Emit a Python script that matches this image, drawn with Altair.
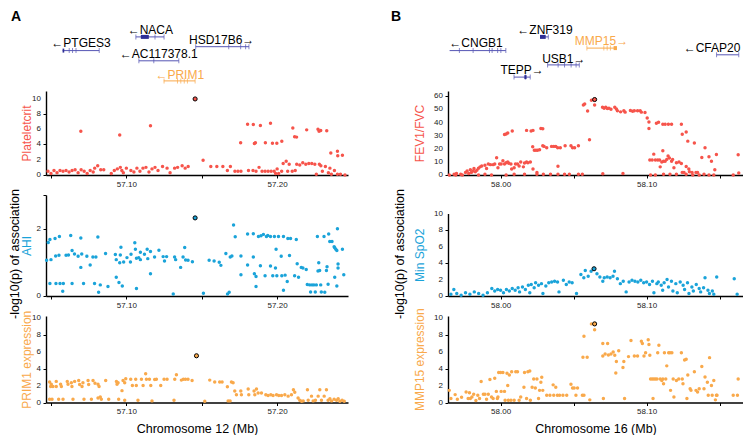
import altair as alt
import pandas as pd

FONT = "Liberation Sans"
RED = "#F6544B"
BLUE = "#1AA3D9"
ORANGE = "#F9A94B"
GENE = "#5656B4"
GENE_DARK = "#2E2E96"

# ---------------- Panel A data (chromosome 12, Mb) ----------------
a_plt = [
    (57.048, 0.5), (57.050, 0.2), (57.052, 0.6), (57.054, 0.3), (57.056, 0.6), (57.058, 0.5),
    (57.060, 0.6), (57.062, 0.4), (57.064, 0.6), (57.066, 0.7), (57.068, 0.3), (57.070, 0.7),
    (57.072, 0.5), (57.074, 0.2), (57.076, 0.6), (57.078, 0.4), (57.079, 0.9), (57.081, 1.2),
    (57.083, 0.7), (57.085, 0.7), (57.090, 0.2), (57.092, 0.6), (57.094, 0.8), (57.096, 1.0),
    (57.097, 0.6), (57.098, 0.3), (57.100, 0.9), (57.103, 0.6), (57.105, 0.4), (57.107, 0.9),
    (57.109, 0.5), (57.111, 0.9), (57.113, 1.0), (57.115, 0.4), (57.117, 0.8), (57.119, 1.0),
    (57.121, 0.6), (57.124, 1.1), (57.127, 0.9), (57.129, 0.3), (57.132, 0.9), (57.134, 1.0),
    (57.137, 1.2), (57.139, 0.9), (57.141, 1.1), (57.156, 1.1), (57.160, 1.1), (57.164, 1.1),
    (57.167, 0.6), (57.169, 1.1), (57.172, 0.5), (57.174, 0.5), (57.176, 0.5), (57.181, 0.6),
    (57.184, 0.6), (57.186, 0.5), (57.188, 1.0), (57.190, 0.5), (57.192, 0.5), (57.194, 0.5),
    (57.196, 0.5), (57.198, 0.5), (57.199, 0.2), (57.200, 0.8), (57.201, 0.2), (57.203, 0.5),
    (57.204, 1.5), (57.206, 1.8), (57.207, 0.5), (57.208, 1.4), (57.210, 0.5), (57.212, 0.6),
    (57.213, 1.4), (57.215, 1.3), (57.217, 1.6), (57.219, 1.4), (57.221, 1.5), (57.223, 1.5),
    (57.225, 1.4), (57.226, 0.1), (57.228, 1.4), (57.229, 1.2), (57.230, 0.5), (57.232, 1.1),
    (57.234, 0.3), (57.235, 0.9), (57.236, 0.1), (57.238, 0.6), (57.240, 0.1), (57.242, 0.1),
    (57.245, 0.0),
    (57.0698, 5.74), (57.0956, 5.25), (57.1160, 6.45), (57.1509, 1.94),
    (57.1758, 4.21), (57.1804, 6.65), (57.1842, 6.61), (57.1849, 4.13), (57.1856, 4.21),
    (57.1889, 6.49), (57.1922, 4.21), (57.1956, 6.78), (57.1969, 4.17), (57.1998, 4.17),
    (57.2031, 4.42), (57.2104, 6.16), (57.2116, 5.00), (57.2129, 4.96), (57.2196, 5.91),
    (57.2271, 5.99), (57.2278, 5.74), (57.2289, 5.83), (57.2329, 5.79), (57.2356, 2.89),
    (57.2400, 3.10), (57.2402, 2.52), (57.2433, 2.60),
]
a_plt_lead = (57.1456, 9.96)

a_ahi = [
    (57.0471, 1.06), (57.0482, 1.59), (57.0493, 1.68), (57.0500, 1.08), (57.0493, 0.37),
    (57.0527, 1.71), (57.0531, 1.19), (57.0533, 0.37), (57.0556, 1.77), (57.0553, 1.21),
    (57.0560, 0.37), (57.0578, 0.14), (57.0582, 0.37), (57.0600, 1.21), (57.0616, 1.22),
    (57.0631, 1.80), (57.0640, 1.35), (57.0640, 0.37), (57.0656, 1.25), (57.0680, 1.18),
    (57.0698, 1.72), (57.0698, 0.85), (57.0704, 1.25), (57.0716, 0.37), (57.0738, 1.18),
    (57.0760, 0.92), (57.0778, 1.16), (57.0789, 0.37), (57.0798, 1.16), (57.0811, 1.75),
    (57.0816, 0.11), (57.0827, 0.33), (57.0862, 1.26), (57.0878, 0.28), (57.0927, 1.23),
    (57.0933, 0.56), (57.0933, 1.08), (57.0951, 0.40), (57.0960, 1.22), (57.0964, 1.45),
    (57.0956, 0.99), (57.0973, 0.30), (57.0982, 1.01), (57.1004, 1.14), (57.1027, 1.01),
    (57.1031, 1.24), (57.1056, 1.58), (57.1060, 1.39), (57.1067, 0.22), (57.1067, 1.12),
    (57.1082, 1.14), (57.1093, 1.30), (57.1093, 1.08), (57.1120, 1.24), (57.1138, 1.39),
    (57.1142, 1.11), (57.1160, 1.32), (57.1160, 0.66), (57.1187, 1.16), (57.1216, 1.36),
    (57.1244, 1.17), (57.1253, 1.04), (57.1267, 1.17), (57.1311, 0.06), (57.1320, 1.16),
    (57.1327, 1.08), (57.1360, 0.85), (57.1376, 1.16), (57.1387, 1.44), (57.1393, 1.07),
    (57.1409, 1.06), (57.1438, 1.02), (57.1511, 0.08), (57.1549, 1.06), (57.1582, 1.04),
    (57.1616, 1.00), (57.1627, 0.91), (57.1660, 1.26), (57.1671, 0.06), (57.1682, 0.11),
    (57.1689, 1.16), (57.1700, 1.19), (57.1711, 2.11), (57.1722, 1.76), (57.1760, 1.19),
    (57.1760, 0.63), (57.1804, 1.84), (57.1804, 0.92), (57.1842, 1.85), (57.1842, 1.16),
    (57.1849, 0.66), (57.1860, 0.58), (57.1860, 0.28), (57.1876, 1.77), (57.1889, 0.90),
    (57.1893, 1.79), (57.1909, 1.83), (57.1920, 0.60), (57.1929, 1.77), (57.1938, 1.80),
    (57.1956, 1.77), (57.1956, 0.89), (57.1971, 0.60), (57.1982, 1.77), (57.1989, 0.83),
    (57.1993, 1.39), (57.1998, 0.60), (57.2009, 1.77), (57.2027, 1.18), (57.2031, 0.60),
    (57.2042, 0.17), (57.2042, 1.77), (57.2053, 0.62), (57.2067, 0.43), (57.2071, 1.71),
    (57.2082, 1.20), (57.2089, 1.71), (57.2116, 0.60), (57.2127, 1.68), (57.2133, 0.96),
    (57.2142, 0.56), (57.2160, 0.85), (57.2171, 0.83), (57.2193, 0.79), (57.2200, 0.34),
    (57.2216, 0.33), (57.2222, 0.12), (57.2231, 0.33), (57.2244, 0.33), (57.2253, 0.12),
    (57.2260, 0.33), (57.2267, 1.77), (57.2271, 0.74), (57.2276, 0.99), (57.2282, 0.76),
    (57.2289, 0.33), (57.2293, 0.12), (57.2311, 1.77), (57.2316, 0.11), (57.2327, 0.76),
    (57.2331, 0.87), (57.2338, 0.35), (57.2342, 1.84), (57.2349, 1.62), (57.2364, 1.62),
    (57.2378, 1.46), (57.2382, 1.43), (57.2389, 1.39), (57.2396, 1.35), (57.2400, 2.00),
    (57.2404, 0.95), (57.2404, 0.83), (57.2382, 0.56), (57.2396, 0.30), (57.2433, 1.39),
    (57.2442, 0.63),
]
a_ahi_lead = (57.1456, 2.32)

a_prim = [
    (57.0491, 2.42), (57.0498, 1.89), (57.0502, 2.15), (57.0513, 1.89), (57.0535, 2.49),
    (57.0535, 1.89), (57.0564, 2.15), (57.0569, 1.89), (57.0608, 2.49), (57.0613, 2.15),
    (57.0635, 2.34), (57.0639, 1.89), (57.0657, 2.49), (57.0684, 2.60), (57.0690, 2.11),
    (57.0706, 1.89), (57.0712, 2.34), (57.0746, 2.60), (57.0750, 2.11), (57.0779, 2.60),
    (57.0792, 2.26), (57.0812, 2.15), (57.0819, 1.89), (57.0863, 2.60), (57.0934, 2.49),
    (57.0938, 2.15), (57.0945, 2.34), (57.0971, 1.40), (57.0978, 2.60), (57.0989, 2.34),
    (57.0996, 2.79), (57.1029, 2.75), (57.1040, 2.00), (57.1062, 2.75), (57.1066, 2.00),
    (57.1100, 2.75), (57.1111, 2.00), (57.1128, 3.40), (57.1133, 2.75), (57.1153, 2.75),
    (57.1162, 2.00), (57.1188, 2.72), (57.1199, 2.75), (57.1228, 2.00), (57.1250, 2.75),
    (57.1270, 2.75), (57.1321, 2.75), (57.1332, 3.28), (57.1365, 2.64), (57.1378, 2.75),
    (57.1392, 2.75), (57.1409, 2.75), (57.1436, 2.60), (57.1553, 2.64), (57.1586, 2.42),
    (57.1619, 2.42), (57.1635, 2.42), (57.1670, 1.85), (57.1697, 2.42), (57.1708, 2.34),
    (57.1719, 1.36), (57.1730, 0.91), (57.1759, 1.36), (57.1763, 0.91), (57.1808, 1.58),
    (57.1812, 0.91), (57.1847, 1.36), (57.1852, 0.91), (57.1863, 1.58), (57.1874, 1.13),
    (57.1896, 1.13), (57.1925, 0.91), (57.1940, 0.83), (57.1958, 0.91), (57.1973, 0.83),
    (57.1996, 0.91), (57.2011, 0.83), (57.2029, 0.83), (57.2051, 0.91), (57.2073, 0.75),
    (57.2095, 0.91), (57.2108, 1.51), (57.2117, 1.21), (57.2139, 0.53), (57.2150, 0.26),
    (57.2162, 0.15), (57.2173, 0.19), (57.2201, 1.51), (57.2206, 0.26), (57.2228, 0.75),
    (57.2239, 0.19), (57.2254, 0.26), (57.2272, 0.75), (57.2283, 1.51), (57.2294, 0.26),
    (57.2312, 0.75), (57.2327, 1.51), (57.2338, 0.26), (57.2350, 0.45), (57.2361, 0.19),
    (57.2378, 0.38), (57.2394, 0.26), (57.2405, 0.45), (57.2416, 0.15), (57.2431, 0.26),
    (57.2445, 0.15),
    (57.0491, 0.38), (57.0507, 0.38), (57.0551, 0.38), (57.0580, 0.38), (57.0646, 0.38),
    (57.0719, 0.38), (57.0768, 0.38), (57.0812, 0.53), (57.0827, 0.64), (57.0834, 0.38),
    (57.0883, 0.38), (57.0949, 0.38), (57.0989, 0.26), (57.1077, 0.26), (57.1170, 0.19),
    (57.1316, 0.26), (57.1520, 0.15), (57.1675, 0.19), (57.1688, 0.19),
]
a_prim_lead = (57.1465, 5.51)

# ---------------- Panel B data (chromosome 16, Mb) ----------------
b_fev = [
    (58.0567, 53.3), (58.0576, 54.1), (58.0596, 48.8), (58.0622, 57.0), (58.0644, 53.3),
    (58.0609, 26.8), (58.0700, 1.0), (58.0698, 51.6), (58.0709, 50.8), (58.0720, 51.6),
    (58.0731, 50.6), (58.0742, 50.8), (58.0756, 50.1), (58.0782, 51.6), (58.0793, 50.3),
    (58.0800, 48.9), (58.0822, 48.1), (58.0844, 48.9), (58.0853, 47.9), (58.0889, 49.1),
    (58.0904, 48.6), (58.0916, 48.9), (58.0938, 48.9), (58.0956, 48.9), (58.0964, 47.9),
    (58.0989, 47.6), (58.1004, 43.4), (58.1016, 40.4), (58.1016, 35.5), (58.1067, 39.4),
    (58.1082, 40.2), (58.1111, 38.7), (58.1127, 38.7), (58.1149, 38.7), (58.1171, 38.7),
    (58.1238, 38.7), (58.1244, 31.0), (58.1271, 32.7), (58.1282, 25.8), (58.1327, 24.3),
    (58.1378, 13.4), (58.1400, 20.8), (58.1427, 13.9), (58.1444, 10.4), (58.1467, 4.0),
    (58.1478, 15.6), (58.1627, 15.4),
    (58.1022, 11.4), (58.1038, 11.4), (58.1049, 15.9), (58.1060, 11.4), (58.1076, 11.4),
    (58.1089, 11.4), (58.1093, 6.2), (58.1104, 9.9), (58.1111, 18.4), (58.1116, 10.4),
    (58.1127, 10.4), (58.1138, 11.9), (58.1147, 14.4), (58.1156, 12.9), (58.1171, 10.4),
    (58.1178, 11.9), (58.1187, 5.5), (58.1204, 9.4), (58.1222, 9.9), (58.1238, 8.7),
    (58.1244, 2.0), (58.1256, 2.0), (58.1271, 6.4), (58.1289, 4.5), (58.1293, 2.5),
    (58.1311, 2.0), (58.1338, 2.0), (58.1349, 2.0), (58.1360, 0.0),
    (58.0220, 21.6), (58.0231, 18.8), (58.0242, 18.8), (58.0253, 18.8), (58.0267, 19.3),
    (58.0289, 22.3), (58.0298, 21.8), (58.0316, 20.8), (58.0349, 21.8), (58.0364, 21.8),
    (58.0378, 21.8), (58.0391, 20.8), (58.0409, 20.8), (58.0442, 22.3), (58.0482, 22.3),
    (58.0493, 20.8), (58.0507, 20.8), (58.0533, 22.3),
    (58.0027, 30.8), (58.0038, 31.2), (58.0049, 32.0), (58.0080, 33.5), (58.0178, 34.0),
    (58.0209, 33.5), (58.0222, 34.0), (58.0276, 35.5), (58.0289, 35.2), (58.0393, 6.7),
    (57.9649, 0.0), (57.9682, 0.5), (57.9698, 1.2), (57.9727, 0.5), (57.9760, 2.0),
    (57.9771, 3.0), (57.9782, 1.2), (57.9793, 4.0), (57.9800, 2.0), (57.9811, 3.0),
    (57.9818, 5.0), (57.9827, 2.5), (57.9838, 3.7), (57.9849, 5.2), (57.9860, 6.2),
    (57.9871, 6.9), (57.9893, 7.4), (57.9904, 5.0), (57.9916, 8.4), (57.9931, 7.9),
    (57.9949, 7.9), (57.9960, 8.4), (57.9973, 13.1), (57.9982, 5.5), (57.9993, 8.4),
    (58.0004, 8.4), (58.0016, 10.9), (58.0027, 8.4), (58.0038, 9.4), (58.0049, 9.9),
    (58.0056, 8.9), (58.0071, 8.4), (58.0076, 4.5), (58.0093, 5.5), (58.0102, 8.4),
    (58.0116, 8.4), (58.0127, 6.9), (58.0138, 9.9), (58.0156, 6.2), (58.0164, 9.2),
    (58.0178, 9.9), (58.0187, 9.4), (58.0204, 9.9), (58.0222, 4.5), (58.0249, 2.0),
    (57.9693, 0.0), (57.9738, 0.0), (57.9849, 0.0), (57.9893, 0.5), (57.9938, 0.0),
    (58.0038, 0.0), (58.0093, 0.5), (58.0164, 0.5), (58.0249, 0.5), (58.0293, 0.5),
    (58.0342, 0.5), (58.0393, 0.5), (58.0438, 0.5), (58.0471, 0.5), (58.0533, 0.5),
    (58.0560, 0.5), (58.0838, 1.2), (58.1027, 0.0), (58.1060, 0.0), (58.1116, 0.5),
    (58.1160, 0.5), (58.1204, 0.5), (58.1271, 0.5), (58.1316, 0.0), (58.1393, 0.5),
    (58.1427, 0.0), (58.1460, 0.0), (58.1593, 0.0), (58.1631, 1.5),
]
b_fev_lead = (58.0644, 57.5)

b_spo2 = [
    (57.966, 0.2), (57.968, 0.8), (57.970, 0.3), (57.973, 0.1), (57.976, 0.4), (57.979, 0.2),
    (57.982, 0.5), (57.985, 0.3), (57.988, 0.1), (57.991, 0.4), (57.994, 0.9), (57.996, 0.6),
    (57.998, 0.8), (58.000, 0.7), (58.002, 0.4), (58.004, 0.8), (58.006, 0.6), (58.008, 0.9),
    (58.010, 0.7), (58.012, 1.0), (58.013, 0.5), (58.015, 1.1), (58.017, 0.8), (58.019, 1.3),
    (58.020, 0.4), (58.021, 1.4), (58.023, 1.0), (58.024, 1.6), (58.026, 1.3), (58.028, 1.5),
    (58.029, 0.3), (58.031, 1.2), (58.033, 1.6), (58.035, 1.7), (58.037, 1.8), (58.039, 1.7),
    (58.040, 0.5), (58.043, 1.9), (58.045, 1.4), (58.047, 1.7), (58.049, 1.6), (58.052, 0.3),
    (58.055, 2.6), (58.057, 2.2), (58.058, 3.1), (58.060, 2.4), (58.062, 3.0), (58.066, 2.7),
    (58.068, 2.3), (58.070, 1.8), (58.071, 2.2), (58.073, 2.3), (58.075, 2.2), (58.077, 2.4),
    (58.078, 3.0), (58.080, 2.1), (58.082, 1.5), (58.084, 1.8), (58.086, 0.5), (58.088, 1.7),
    (58.090, 1.9), (58.092, 1.8), (58.094, 1.7), (58.096, 1.9), (58.098, 1.6), (58.100, 1.7),
    (58.102, 1.4), (58.104, 1.8), (58.105, 0.4), (58.107, 1.5), (58.108, 1.7), (58.110, 1.3),
    (58.111, 0.7), (58.112, 1.6), (58.114, 2.0), (58.115, 1.1), (58.117, 1.8), (58.118, 0.6),
    (58.120, 1.5), (58.121, 0.4), (58.123, 1.7), (58.125, 1.3), (58.126, 0.8), (58.128, 1.6),
    (58.129, 0.3), (58.131, 1.1), (58.132, 0.6), (58.134, 1.4), (58.136, 0.9), (58.137, 0.5),
    (58.139, 1.0), (58.140, 2.2), (58.142, 0.7), (58.143, 0.3), (58.145, 0.6), (58.146, 0.2),
    (58.148, 2.3), (58.160, 2.1), (58.162, 0.2),
]
b_spo2_lead = (58.0640, 3.3)

b_mmp = [
    (58.0622, 9.27), (58.0644, 8.57), (58.0571, 7.80), (58.0564, 5.33), (58.0593, 5.33),
    (58.0611, 0.31), (58.0700, 6.95), (58.0733, 6.95), (58.0700, 5.48), (58.0704, 0.46),
    (58.0716, 5.71), (58.0738, 5.60), (58.0756, 5.71), (58.0771, 5.95), (58.0782, 5.56),
    (58.0793, 4.83), (58.0809, 6.10), (58.0789, 3.47), (58.0838, 4.13), (58.0844, 4.83),
    (58.0849, 0.46), (58.0876, 5.41), (58.0893, 7.30), (58.0916, 5.48), (58.0938, 5.48),
    (58.0964, 7.22), (58.0971, 6.95), (58.0982, 5.48), (58.0993, 5.87), (58.1011, 7.41),
    (58.1016, 6.83), (58.1022, 5.56), (58.1027, 2.78), (58.1038, 2.78), (58.1044, 0.46),
    (58.1049, 2.78), (58.1060, 2.78), (58.1071, 2.78), (58.1076, 5.87), (58.1084, 6.76),
    (58.1093, 2.78), (58.1104, 2.59), (58.1111, 2.78), (58.1116, 2.20), (58.1122, 5.87),
    (58.1131, 2.78), (58.1138, 4.32), (58.1151, 5.87), (58.1160, 5.87), (58.1164, 1.43),
    (58.1173, 5.87), (58.1182, 2.78), (58.1187, 0.66), (58.1204, 2.59), (58.1220, 2.78),
    (58.1238, 5.87), (58.1244, 2.78), (58.1249, 2.20), (58.1260, 5.02), (58.1271, 5.10),
    (58.1276, 0.46), (58.1282, 3.24), (58.1298, 1.62), (58.1304, 1.43), (58.1327, 3.63),
    (58.1338, 1.43), (58.1349, 1.24), (58.1360, 1.62), (58.1378, 4.25), (58.1393, 1.62),
    (58.1400, 3.01), (58.1416, 2.39), (58.1422, 0.85), (58.1431, 5.29), (58.1444, 2.01),
    (58.1449, 0.85), (58.1460, 2.59), (58.1471, 0.31), (58.1478, 0.85), (58.1482, 0.85),
    (58.1593, 0.85), (58.1622, 0.85), (58.1627, 2.78),
    (57.9649, 1.43), (57.9660, 0.46), (57.9689, 0.93), (57.9704, 0.39), (57.9733, 0.62),
    (57.9764, 1.24), (57.9778, 0.46), (57.9787, 1.16), (57.9793, 0.46), (57.9804, 0.66),
    (57.9816, 0.97), (57.9831, 0.23), (57.9844, 0.85), (57.9856, 0.46), (57.9867, 2.47),
    (57.9882, 0.97), (57.9893, 0.97), (57.9904, 0.39), (57.9916, 0.97), (57.9927, 2.70),
    (57.9938, 0.66), (57.9949, 0.46), (57.9960, 2.86), (57.9971, 1.31), (57.9978, 0.46),
    (57.9982, 0.66), (57.9987, 3.55), (58.0000, 3.55), (58.0004, 1.31), (58.0016, 3.55),
    (58.0027, 1.31), (58.0031, 0.27), (58.0044, 3.44), (58.0049, 2.01), (58.0053, 0.27),
    (58.0060, 3.24), (58.0071, 0.27), (58.0076, 3.63), (58.0093, 0.27), (58.0104, 3.63),
    (58.0116, 3.63), (58.0127, 0.27), (58.0138, 0.66), (58.0160, 1.81), (58.0164, 3.55),
    (58.0178, 0.46), (58.0187, 3.63), (58.0200, 3.71), (58.0204, 0.27), (58.0216, 1.81),
    (58.0227, 2.78), (58.0238, 1.70), (58.0249, 2.78), (58.0260, 0.46), (58.0267, 1.43),
    (58.0276, 2.39), (58.0282, 2.97), (58.0289, 1.43), (58.0316, 0.85), (58.0338, 0.85),
    (58.0360, 2.08), (58.0364, 0.85), (58.0378, 1.81), (58.0389, 0.85), (58.0404, 0.85),
    (58.0427, 0.85), (58.0453, 0.85), (58.0482, 2.16), (58.0493, 1.70), (58.0504, 1.70),
    (58.0516, 0.85), (58.0527, 1.70), (58.0560, 0.85), (58.0571, 0.85),
]
b_mmp_lead = (58.0644, 9.27)

# ---------------- gene tracks ----------------
a_gene_names = ["←NACA", "←PTGES3", "HSD17B6→", "←AC117378.1", "←PRIM1"]
a_gene_start = [57.1063, 57.0577, 57.1460, 57.1083, 57.1248]
a_gene_end = [57.1250, 57.0820, 57.1813, 57.1348, 57.1456]
a_gene_line_y = [33.9, 47.6, 43.7, 57.8, 77.9]
a_gene_label_x = [57.1159, 57.0699, 57.1632, 57.1215, 57.1354]
a_gene_label_y = [26.9, 39.6, 37.0, 51.4, 71.5]
a_gene_focus = [False, False, False, False, True]
a_gene_exons = {
    "←PTGES3": [57.0621, 57.0643, 57.0666, 57.0820],
    "HSD17B6→": [57.1460, 57.1679, 57.1758, 57.1791, 57.1813],
    "←AC117378.1": [57.1083, 57.1182, 57.1348],
    "←PRIM1": [57.1250, 57.1339, 57.1361, 57.1384, 57.1405, 57.1456],
    "←NACA": [57.1063, 57.1190, 57.1250],
}
a_gene_blocks = {"←NACA": (57.1096, 57.1149), "←PTGES3": (57.0577, 57.0588)}

b_gene_names = ["←ZNF319", "←CNGB1", "MMP15→", "USB1→", "TEPP→", "←CFAP20"]
b_gene_start = [58.0270, 57.9651, 58.0591, 58.0322, 58.0092, 58.1479]
b_gene_end = [58.0327, 58.0036, 58.0797, 58.0539, 58.0203, 58.1631]
b_gene_line_y = [33.9, 47.6, 45.1, 61.9, 74.1, 51.8]
b_gene_label_x = [58.0304, 57.9832, 58.0691, 58.0433, 58.0148, 58.1448]
b_gene_label_y = [26.9, 39.6, 38.0, 55.6, 66.7, 45.4]
b_gene_focus = [False, False, True, False, False, False]
b_gene_exons = {
    "←CNGB1": [57.9718, 57.9812, 57.9924, 57.9942, 57.9980, 58.0002, 58.0036],
    "MMP15→": [58.0591, 58.0707, 58.0730, 58.0752],
    "USB1→": [58.0322, 58.0394, 58.0438, 58.0483, 58.0517, 58.0539],
    "TEPP→": [58.0092, 58.0170, 58.0203],
    "←CFAP20": [58.1479, 58.1631],
    "←ZNF319": [58.0327],
}
b_gene_blocks = {"←ZNF319": (58.0270, 58.0309), "MMP15→": (58.0774, 58.0797),
                 "TEPP→": (58.0163, 58.0178)}

A_XDOM = [57.0467, 57.2470]
B_XDOM = [57.9640, 58.1660]
A_XTICKS = [57.05, 57.10, 57.15, 57.20]
B_XTICKS = [58.00, 58.05, 58.10, 58.15]

W_A, W_B = 302, 295
H_GENE, H_TOP, H_MID, H_BOT = 52.5, 84, 101, 86.5
GENE_TOP = 15


def gene_track(names, starts, ends, line_y, label_x, label_y, focus, exons, blocks,
               xdom, width, letter, letter_x):
    genes = pd.DataFrame({
        "name": names, "start": starts, "end": ends, "ly": line_y,
        "lx": label_x, "lly": label_y,
        "col": [ORANGE if f else GENE for f in focus],
        "tcol": [ORANGE if f else "black" for f in focus],
    })
    ex_rows, bl_rows = [], []
    for n, xs in exons.items():
        i = names.index(n)
        for x in xs:
            ex_rows.append({"pos": x, "ly": line_y[i], "col": ORANGE if focus[i] else GENE})
    for n, (s, e) in blocks.items():
        i = names.index(n)
        bl_rows.append({"s": s, "e": e, "ly": line_y[i], "col": ORANGE if focus[i] else GENE_DARK})
    xs = alt.Scale(domain=xdom, nice=False, zero=False)
    ys = alt.Scale(domain=[GENE_TOP, GENE_TOP + H_GENE], reverse=True, nice=False, zero=False)
    base = alt.Chart(genes)
    lines = base.mark_rule(strokeWidth=1).encode(
        x=alt.X("start:Q", scale=xs, axis=None), x2="end:Q",
        y=alt.Y("ly:Q", scale=ys, axis=None),
        color=alt.Color("col:N", scale=None))
    ex = alt.Chart(pd.DataFrame(ex_rows)).mark_tick(orient="vertical", size=5, thickness=1).encode(
        x="pos:Q", y="ly:Q", color=alt.Color("col:N", scale=None))
    bl = alt.Chart(pd.DataFrame(bl_rows)).mark_rule(strokeWidth=4).encode(
        x="s:Q", x2="e:Q", y="ly:Q", color=alt.Color("col:N", scale=None))
    labels = base.mark_text(font=FONT, fontSize=12, baseline="middle", align="center").encode(
        x="lx:Q", y="lly:Q", text="name:N", color=alt.Color("tcol:N", scale=None))
    let = alt.Chart(pd.DataFrame({"t": [letter]})).mark_text(
        font=FONT, fontSize=14, fontWeight="bold", align="left", baseline="top", color="black"
    ).encode(x=alt.value(letter_x), y=alt.value(-8), text="t:N")
    return alt.layer(lines, ex, bl, labels, let).properties(width=width, height=H_GENE)


def scatter(points, lead, xdom, xticks, xshow, ydom, yticks, yhide, color, title, title_x,
            width, height, xtitle=None, yrange=None, side_title=None):
    df = pd.DataFrame(points, columns=["pos", "val"])
    lead_df = pd.DataFrame([lead], columns=["pos", "val"])
    ylab_df = pd.DataFrame({"val": [v for v in yticks if v not in yhide]})
    ylab_df["lab"] = [str(v) for v in ylab_df["val"]]
    xsc = alt.Scale(domain=xdom, nice=False, zero=False)
    if yrange is not None:
        ysc = alt.Scale(domain=ydom, range=yrange, nice=False, zero=False)
    else:
        ysc = alt.Scale(domain=ydom, nice=False, zero=False)
    shown = ",".join("'%.2f'" % v for v in xshow)
    lab = "indexof([%s], format(datum.value, '.2f')) >= 0 ? format(datum.value, '.2f') : ''" % shown
    if xtitle:
        xaxis = alt.Axis(values=xticks, labelExpr=lab, title=xtitle, titlePadding=7,
                         titleFontSize=12.5, labelOverlap=False, labelFlush=False)
    else:
        xaxis = alt.Axis(values=xticks, labelExpr=lab, title=None, labelOverlap=False,
                         labelFlush=False)
    yaxis = alt.Axis(values=yticks, labels=False, title=title, titleColor=color,
                     titleX=title_x, titleFontSize=12)
    pts = alt.Chart(df).mark_circle(size=12, opacity=1, color=color).encode(
        x=alt.X("pos:Q", scale=xsc, axis=xaxis),
        y=alt.Y("val:Q", scale=ysc, axis=yaxis))
    hl = alt.Chart(lead_df).mark_point(filled=True, size=17, fill=color, stroke="black",
                                       strokeWidth=1, opacity=1).encode(x="pos:Q", y="val:Q")
    ylabels = alt.Chart(ylab_df).mark_text(
        font=FONT, fontSize=8, align="right", baseline="middle", color="#222222"
    ).encode(x=alt.value(-5), y="val:Q", text="lab:N")
    layers = [pts, hl, ylabels]
    if side_title is not None:
        t, tx, ty = side_title
        layers.append(alt.Chart(pd.DataFrame({"t": [t]})).mark_text(
            font=FONT, fontSize=12.5, angle=270, align="center", baseline="top", color="black"
        ).encode(x=alt.value(tx), y=alt.value(ty), text="t:N"))
    return alt.layer(*layers).properties(width=width, height=height)


LOGP = "-log10(p) of association"

geneA = gene_track(a_gene_names, a_gene_start, a_gene_end, a_gene_line_y, a_gene_label_x,
                   a_gene_label_y, a_gene_focus, a_gene_exons, a_gene_blocks, A_XDOM, W_A, "A", -35)
topA = scatter(a_plt, a_plt_lead, A_XDOM, A_XTICKS, [57.10, 57.20], [0, 11], [0, 2, 4, 6, 8, 10],
               [], RED, "Plateletcrit", -13, W_A, H_TOP)
midA = scatter(a_ahi, a_ahi_lead, A_XDOM, A_XTICKS, [57.10, 57.20], [0, 3], [0, 2, 3],
               [3], BLUE, "AHI", -13, W_A, H_MID, side_title=(LOGP, -37, 59))
botA = scatter(a_prim, a_prim_lead, A_XDOM, A_XTICKS, [57.10, 57.20], [0, 10.2], [0, 2, 4, 6, 8, 10],
               [], ORANGE, "PRIM1 expression", -13, W_A, H_BOT, xtitle="Chromosome 12 (Mb)")

geneB = gene_track(b_gene_names, b_gene_start, b_gene_end, b_gene_line_y, b_gene_label_x,
                   b_gene_label_y, b_gene_focus, b_gene_exons, b_gene_blocks, B_XDOM, W_B, "B", -57)
topB = scatter(b_fev, b_fev_lead, B_XDOM, B_XTICKS, [58.00, 58.10], [0, 64], [0, 10, 20, 30, 40, 50, 60],
               [], RED, "FEV1/FVC", -22, W_B, H_TOP)
midB = scatter(b_spo2, b_spo2_lead, B_XDOM, B_XTICKS, [58.00, 58.10], [0, 10], [0, 2, 4, 6, 8, 10],
               [], BLUE, "Min SpO2", -22, W_B, H_MID, yrange=[H_MID, 18.5],
               side_title=(LOGP, -54, 59))
botB = scatter(b_mmp, b_mmp_lead, B_XDOM, B_XTICKS, [58.00, 58.10], [0, 10.2], [0, 2, 4, 6, 8, 10],
               [], ORANGE, "MMP15 expression", -22, W_B, H_BOT, xtitle="Chromosome 16 (Mb)")

chart = alt.concat(
    geneA, geneB, topA, topB, midA, midB, botA, botB,
    columns=2, spacing={"row": 20, "column": 100}, bounds="flush", align="each"
).properties(
    padding={"left": 0, "top": 2, "right": 0, "bottom": 0}
).configure(font=FONT).configure_view(stroke=None).configure_axis(
    grid=False, domainColor="black", domainWidth=1.4, tickColor="black", tickSize=3,
    tickWidth=1, labelFont=FONT, labelFontSize=8, labelColor="#222222", labelPadding=2,
    labelOverlap=False, titleFont=FONT, titleFontWeight="normal", titleColor="black"
)

chart.save("out.html", embed_options={"renderer": "svg", "actions": False})
